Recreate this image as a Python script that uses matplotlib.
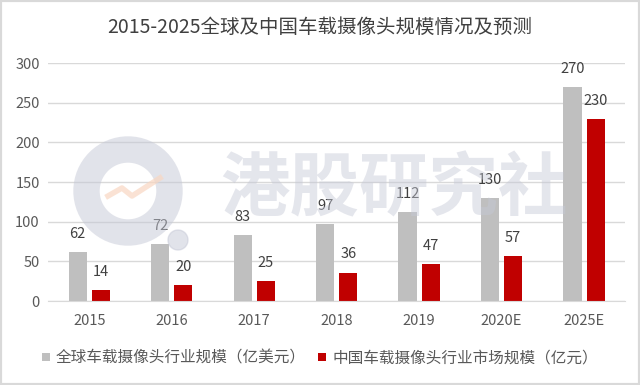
import matplotlib.pyplot as plt
import numpy as np
from matplotlib.patches import Ellipse

plt.rcParams['font.family'] = ['Noto Sans CJK SC', 'DejaVu Sans']

years = ["2015", "2016", "2017", "2018", "2019", "2020E", "2025E"]
global_size = [62, 72, 83, 97, 112, 130, 270]
china_size = [14, 20, 25, 36, 47, 57, 230]
title = "2015-2025全球及中国车载摄像头规模情况及预测"
global_label = "全球车载摄像头行业规模（亿美元）"
china_label = "中国车载摄像头行业市场规模（亿元）"

TEXT = "#595959"
GRAY = "#BFBFBF"
RED = "#C00000"

fig = plt.figure(figsize=(6.4, 3.85), dpi=100)
ax = fig.add_axes([0.075, 0.218, 0.902, 0.618])

x = np.arange(len(years))
width = 0.22
offset = 0.14
b1 = ax.bar(x - offset, global_size, width, color=GRAY, label=global_label, zorder=2)
b2 = ax.bar(x + offset, china_size, width, color=RED, label=china_label, zorder=2)
ax.bar_label(b1, padding=8, fontsize=10.5, color="#404040")
ax.bar_label(b2, padding=8, fontsize=10.5, color="#404040")

ax.set_xlim(-0.5, len(years) - 0.5)
ax.set_ylim(0, 300)
ax.set_yticks(range(0, 301, 50))
ax.set_xticks(x)
ax.set_xticklabels(years)
ax.tick_params(axis="both", length=0, labelsize=10.5, colors=TEXT)
ax.tick_params(axis="x", pad=9)
ax.tick_params(axis="y", pad=6)
ax.grid(axis="y", color="#D9D9D9", linewidth=1, zorder=0)
for side in ["top", "right", "left"]:
    ax.spines[side].set_visible(False)
ax.spines["bottom"].set_color("#D9D9D9")

fig.text(0.5, 1 - 27 / 385, title, ha="center", va="center", fontsize=14, color="#404040")

fig.legend(handles=[b1, b2], loc="center", bbox_to_anchor=(0.5, 1 - 358 / 385), ncol=2,
           frameon=False, fontsize=11.25, handlelength=0.5, handleheight=0.5,
           handletextpad=0.4, columnspacing=0.8, labelcolor=TEXT)

# watermark
W, H = 640, 385
wm = "#C5C8D6"
fig.add_artist(Ellipse((128 / W, 1 - 191 / H), 83 / W, 83 / H, fill=False,
                       edgecolor=wm, linewidth=19, alpha=0.5, zorder=5))
fig.add_artist(Ellipse((178 / W, 1 - 240 / H), 20 / W, 20 / H, color=wm,
                       alpha=0.5, zorder=5))
fig.add_artist(plt.Line2D([108 / W, 122 / W, 132 / W, 160 / W],
                          [1 - 196 / H, 1 - 188 / H, 1 - 196 / H, 1 - 178 / H],
                          transform=fig.transFigure, color="#F9D7C2", linewidth=4,
                          alpha=0.7, zorder=5))
fig.text(394 / W, 1 - 190 / H, "港股研究社", ha="center", va="center",
         fontsize=50, fontweight="bold", color=wm, alpha=0.45, zorder=5)

fig.add_artist(plt.Rectangle((0, 0), 1, 1, transform=fig.transFigure, fill=False,
                             edgecolor="#D9D9D9", linewidth=3))

fig.savefig("out.png", dpi=100)
